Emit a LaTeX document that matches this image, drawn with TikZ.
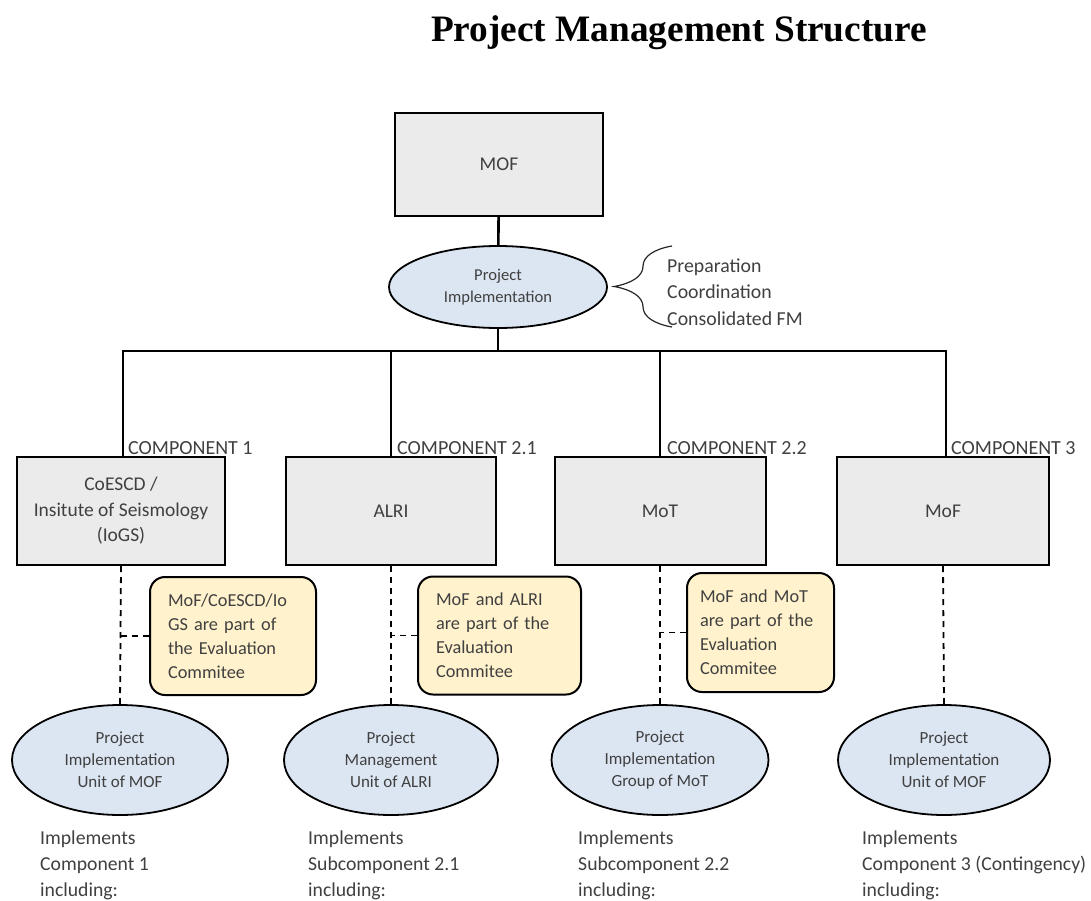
\documentclass[tikz,border=0pt]{standalone}
\usepackage{fontspec}
\setmainfont{Carlito}
\newfontfamily\titlefont{Liberation Serif}
\usetikzlibrary{shapes.geometric,decorations.pathreplacing}
\definecolor{boxgray}{HTML}{EBEBEB}
\definecolor{ellblue}{HTML}{DCE6F2}
\definecolor{noteyellow}{HTML}{FFF2CC}
\definecolor{txtgray}{HTML}{404040}
\tikzset{
  mainline/.style={line width=2.6pt},
  dashline/.style={line width=1.8pt, dash pattern=on 6pt off 5pt},
  graybox/.style={draw, line width=2pt, fill=boxgray, rectangle, text=txtgray,
    font=\fontsize{19.5}{25.5}\selectfont, align=center, inner sep=0pt},
  blueell/.style={draw, line width=1.8pt, fill=ellblue, ellipse, text=txtgray,
    font=\fontsize{17}{22}\selectfont, align=center, inner sep=0pt,
    minimum width=216pt, minimum height=110pt},
  note/.style={draw, line width=2pt, fill=noteyellow, rectangle, rounded corners=15pt,
    text=txtgray, font=\fontsize{18.3}{24}\selectfont, align=left,
    inner xsep=18pt, minimum height=118pt},
  complabel/.style={anchor=base west, inner sep=0pt, text=txtgray,
    font=\fontsize{20}{24}\selectfont},
  bottomtext/.style={anchor=north west, inner sep=0pt, align=left, text=txtgray,
    font=\fontsize{19.7}{26}\selectfont},
  bracetext/.style={anchor=west, inner sep=0pt, align=left, text=txtgray,
    font=\fontsize{19.8}{26.5}\selectfont},
}
\begin{document}
\begin{tikzpicture}[x=1pt,y=-1pt]
\useasboundingbox[fill=white] (0,0) rectangle (1091,901);

% title
\node[anchor=base, inner sep=0pt, font=\titlefont\bfseries\fontsize{37.3}{40}\selectfont]
  (title) at (679,42) {Project Management Structure};

% top
\node[graybox, minimum width=208pt, minimum height=103pt] (mof) at (499,164.5) {MOF};
\node[blueell, font=\fontsize{16.6}{22}\selectfont, minimum width=218pt, minimum height=82pt] (pi) at (498,287) {Project\\Implementation};
\draw[mainline] (mof) -- (pi);

% brace
\coordinate (brB) at (672,327);
\coordinate (brT) at (672,246);
\draw[line width=1.2pt, draw=black!85, decorate, decoration={brace, amplitude=58pt}] (brB) -- (brT);
\node[bracetext] (tasks) at (667,292) {Preparation\\Coordination\\Consolidated FM};

% bus
\coordinate (bL) at (123,351);
\coordinate (bR) at (946,351);
\draw[mainline] (pi.south) -- (pi.south |- bL);
\draw[mainline, line cap=rect] (bL) -- (bR);

% component boxes
\node[graybox, minimum width=208pt, minimum height=108pt] (c1) at (121,511) {CoESCD /\\Insitute of Seismology\\(IoGS)};
\node[graybox, minimum width=210pt, minimum height=108pt] (c2) at (391,511) {ALRI};
\node[graybox, minimum width=211pt, minimum height=108pt] (c3) at (660,511) {MoT};
\node[graybox, minimum width=212pt, minimum height=108pt] (c4) at (943,511) {MoF};

\draw[mainline] (bL) -- (bL |- c1.north);
\draw[mainline] (bL -| c2.north) -- (c2.north);
\draw[mainline] (bL -| c3.north) -- (c3.north);
\draw[mainline] (bR) -- (bR |- c4.north);

\node[complabel] (l1) at (128,454) {COMPONENT 1};
\node[complabel] (l2) at (397,454) {COMPONENT 2.1};
\node[complabel] (l3) at (667,454) {COMPONENT 2.2};
\node[complabel] (l4) at (951,454) {COMPONENT 3};

% notes
\node[note, text width=130pt] (n1) at (233,636) {MoF/CoESCD/Io\\GS are part of\\the Evaluation\\Commitee};
\node[note, text width=127pt] (n2) at (499.5,635.5) {MoF and ALRI\\are part of the\\Evaluation\\Commitee};
\node[note, text width=121pt, inner xsep=13pt, minimum height=119pt] (n3) at (760.5,632.5) {MoF and MoT\\are part of the\\Evaluation\\Commitee};

% implementation units
\node[blueell] (e1) at (120,760) {Project\\Implementation\\Unit of MOF};
\node[blueell, minimum width=214pt] (e2) at (391,760) {Project\\Management\\Unit of ALRI};
\node[blueell, minimum width=217pt] (e3) at (660,760) {Project\\Implementation\\Group of MoT};
\node[blueell, minimum width=212pt] (e4) at (944,760) {Project\\Implementation\\Unit of MOF};

\draw[dashline] (c1.south) -- (e1.north);
\draw[dashline] (c2.south) -- (e2.north);
\draw[dashline] (c3.south) -- (e3.north);
\draw[dashline] (c4.south) -- (e4.north);

\draw[dashline] (n1.west) -- (n1.west -| c1.south);
\draw[dashline] (n2.west) -- (n2.west -| c2.south);
\draw[dashline] (n3.west) -- (n3.west -| c3.south);

% bottom texts
\node[bottomtext] (t1) at (40,831) {Implements\\Component 1\\including:};
\node[bottomtext] (t2) at (308,831) {Implements\\Subcomponent 2.1\\including:};
\node[bottomtext] (t3) at (578,831) {Implements\\Subcomponent 2.2\\including:};
\node[bottomtext] (t4) at (862,831) {Implements\\Component 3 (Contingency)\\including:};
\end{tikzpicture}
\end{document}
